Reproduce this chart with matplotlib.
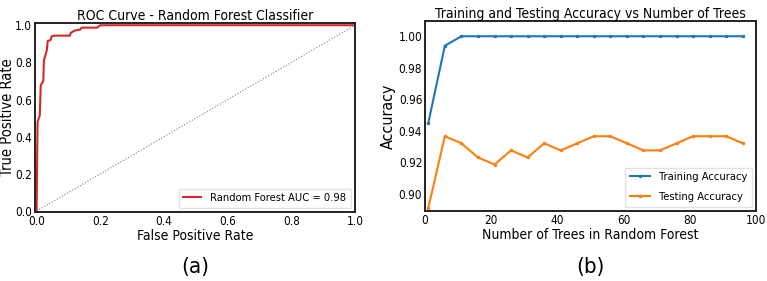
import numpy as np
import matplotlib
matplotlib.use("Agg")
import matplotlib.pyplot as plt

# ROC curve points
fpr = [0.0, 0.003, 0.010, 0.013, 0.021, 0.023, 0.032, 0.035, 0.044, 0.047, 0.055,
       0.105, 0.107, 0.118, 0.137, 0.142, 0.190, 0.200, 1.0]
tpr = [0.0, 0.480, 0.515, 0.677, 0.700, 0.810, 0.865, 0.915, 0.920, 0.940, 0.944,
       0.944, 0.958, 0.970, 0.977, 0.987, 0.987, 1.0, 1.0]
auc_label = "Random Forest AUC = 0.98"

# accuracy vs number of trees
n_trees = list(range(1, 100, 5))
train_acc = [0.945, 0.994] + [1.0] * 18
test_acc = [0.891, 0.9365, 0.932, 0.923, 0.9185, 0.9275, 0.923, 0.932, 0.9275, 0.932,
            0.9365, 0.9365, 0.932, 0.9275, 0.9275, 0.932, 0.9365, 0.9365, 0.9365, 0.932]

plt.rcParams['font.family'] = 'DejaVu Sans'
plt.rcParams['font.stretch'] = 'condensed'

fig = plt.figure(figsize=(7.67, 2.81), dpi=100)
W, H = 767, 281

# ---------------------------
# (a) ROC curve
# ---------------------------
ax1 = fig.add_axes([35 / W, 1 - 212 / H, 320 / W, 189 / H])
ax1.plot(fpr, tpr, color='#d62728', lw=1.5, label=auc_label)
ax1.plot([0, 1], [0, 1], color='gray', ls=':', lw=0.8)
ax1.set_xlim(-0.005, 1.0)
ax1.set_ylim(-0.005, 1.012)
ax1.set_title("ROC Curve - Random Forest Classifier", fontsize=10, pad=2)
ax1.set_xlabel("False Positive Rate", fontsize=10, labelpad=1)
ax1.set_ylabel("True Positive Rate", fontsize=10.5, labelpad=0)
ax1.legend(loc='lower right', fontsize=8, handlelength=1.6, fancybox=False,
           edgecolor='#dddddd', borderaxespad=0.4)

# ---------------------------
# (b) Training / testing accuracy
# ---------------------------
ax2 = fig.add_axes([425 / W, 1 - 211 / H, 331 / W, 190 / H])
ax2.plot(n_trees, train_acc, marker='.', ms=3, lw=1.5, color='#1f77b4', label='Training Accuracy')
ax2.plot(n_trees, test_acc, marker='.', ms=3, lw=1.5, color='#ff7f0e', label='Testing Accuracy')
ax2.set_xlim(0, 100)
ax2.set_ylim(0.889, 1.0097)
ax2.set_yticks([0.90, 0.92, 0.94, 0.96, 0.98, 1.00])
ax2.set_title("Training and Testing Accuracy vs Number of Trees", fontsize=10, pad=2)
ax2.set_xlabel("Number of Trees in Random Forest", fontsize=10, labelpad=1)
ax2.set_ylabel("Accuracy", fontsize=11.5, labelpad=2)
ax2.legend(loc='lower right', fontsize=8, handlelength=1.8, labelspacing=0.9,
           fancybox=False, edgecolor='#dddddd', borderaxespad=0.4)

for ax in (ax1, ax2):
    ax.tick_params(length=0, labelsize=8.5, pad=2)
    for s in ax.spines.values():
        s.set_linewidth(1.4)
        s.set_color('#222222')

fig.text(195 / W, 1 - 267 / H, "(a)", ha='center', va='center', fontsize=16)
fig.text(590 / W, 1 - 267 / H, "(b)", ha='center', va='center', fontsize=16)

plt.savefig("out.png", dpi=100)
